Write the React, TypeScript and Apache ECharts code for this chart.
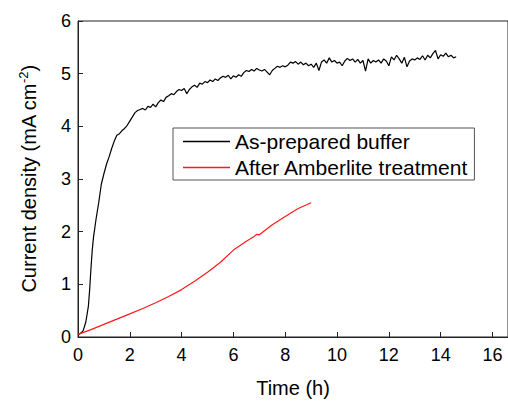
import React, { useEffect, useRef } from "react";
import * as echarts from "echarts";

const xTicks = [0, 2, 4, 6, 8, 10, 12, 14, 16];
const yTicks = [0, 1, 2, 3, 4, 5, 6];
const seriesNames = ["As-prepared buffer", "After Amberlite treatment"];

const asPrepared: [number, number][] = [
  [0.0, 0.04], [0.1, 0.07], [0.2, 0.12], [0.3, 0.28], [0.4, 0.58], [0.45, 0.9], [0.5, 1.3],
  [0.55, 1.65], [0.6, 1.9], [0.7, 2.25], [0.8, 2.55], [0.9, 2.9], [1.0, 3.1], [1.1, 3.28],
  [1.2, 3.42], [1.3, 3.58], [1.4, 3.72], [1.5, 3.83], [1.6, 3.86], [1.7, 3.92], [1.8, 3.96],
  [1.9, 4.02], [2.0, 4.1], [2.1, 4.18], [2.2, 4.26], [2.3, 4.3], [2.4, 4.32], [2.5, 4.34],
  [2.6, 4.31], [2.7, 4.38], [2.8, 4.36], [2.9, 4.42], [3.0, 4.37], [3.1, 4.45], [3.2, 4.5],
  [3.3, 4.47], [3.4, 4.55], [3.5, 4.58], [3.6, 4.62], [3.7, 4.6], [3.8, 4.66], [3.9, 4.7],
  [4.0, 4.68], [4.1, 4.72], [4.2, 4.62], [4.3, 4.7], [4.4, 4.75], [4.5, 4.78], [4.6, 4.74],
  [4.7, 4.82], [4.8, 4.8], [4.9, 4.85], [5.0, 4.83], [5.1, 4.88], [5.2, 4.85], [5.3, 4.9],
  [5.4, 4.87], [5.5, 4.92], [5.6, 4.95], [5.7, 4.93], [5.8, 4.97], [5.9, 4.9], [6.0, 4.96],
  [6.1, 4.93], [6.2, 4.98], [6.3, 4.95], [6.4, 5.02], [6.5, 5.06], [6.6, 5.04], [6.7, 5.08],
  [6.8, 5.05], [6.9, 5.1], [7.0, 5.07], [7.1, 5.05], [7.2, 5.08], [7.3, 5.03], [7.4, 4.98],
  [7.5, 5.06], [7.6, 5.1], [7.7, 5.14], [7.8, 5.12], [7.9, 5.15], [8.0, 5.13], [8.1, 5.16],
  [8.2, 5.22], [8.3, 5.2], [8.4, 5.23], [8.5, 5.18], [8.6, 5.22], [8.7, 5.17], [8.8, 5.2],
  [8.9, 5.15], [9.0, 5.18], [9.1, 5.12], [9.2, 5.2], [9.3, 5.06], [9.4, 5.22], [9.5, 5.26],
  [9.6, 5.2], [9.7, 5.3], [9.8, 5.22], [9.9, 5.25], [10.0, 5.2], [10.1, 5.22], [10.2, 5.15],
  [10.3, 5.24], [10.4, 5.29], [10.5, 5.25], [10.6, 5.28], [10.7, 5.22], [10.8, 5.27],
  [10.9, 5.2], [11.0, 5.25], [11.1, 5.05], [11.2, 5.28], [11.3, 5.2], [11.4, 5.25],
  [11.5, 5.22], [11.6, 5.26], [11.7, 5.2], [11.8, 5.28], [11.9, 5.24], [12.0, 5.15],
  [12.1, 5.32], [12.2, 5.26], [12.3, 5.35], [12.4, 5.28], [12.5, 5.2], [12.6, 5.31],
  [12.7, 5.13], [12.8, 5.24], [12.9, 5.28], [13.0, 5.26], [13.1, 5.3], [13.2, 5.27],
  [13.3, 5.34], [13.4, 5.26], [13.5, 5.35], [13.6, 5.3], [13.7, 5.38], [13.8, 5.44],
  [13.9, 5.28], [14.0, 5.36], [14.1, 5.33], [14.2, 5.39], [14.3, 5.32], [14.4, 5.35],
  [14.5, 5.3], [14.6, 5.32],
];

const afterAmberlite: [number, number][] = [
  [0.0, 0.05], [0.5, 0.14], [1.0, 0.24], [1.5, 0.34], [2.0, 0.44], [2.5, 0.54], [3.0, 0.65],
  [3.5, 0.77], [4.0, 0.9], [4.5, 1.06], [5.0, 1.23], [5.5, 1.42], [6.0, 1.65], [6.5, 1.82],
  [6.8, 1.91], [6.9, 1.95], [7.0, 1.94], [7.5, 2.13], [8.0, 2.29], [8.5, 2.44], [9.0, 2.55],
];

export default function App() {
  const ref = useRef<HTMLDivElement>(null);
  useEffect(() => {
    if (!ref.current) return;
    const chart = echarts.init(ref.current, null, { renderer: "svg" });
    const font = "Liberation Sans, Arial, sans-serif";
    chart.setOption({
      animation: false,
      backgroundColor: "#fff",
      textStyle: { fontFamily: font },
      grid: {
        left: 78, top: 21, bottom: 63, right: -1, show: true,
        borderColor: "#222", borderWidth: 1, backgroundColor: "transparent",
      },
      legend: {
        data: seriesNames,
        orient: "vertical",
        left: 173, top: 128,
        icon: "rect", itemWidth: 47, itemHeight: 1.5, itemGap: 5,
        padding: [3, 6, 2, 10],
        borderColor: "#555", borderWidth: 1,
        textStyle: { fontSize: 21, color: "#000", fontFamily: font },
      },
      xAxis: {
        type: "value", min: 0, max: 16.6,
        name: "Time (h)", nameLocation: "middle", nameGap: 41,
        nameTextStyle: { fontSize: 20, color: "#000", fontFamily: font },
        axisLine: { show: true, lineStyle: { color: "#222", width: 1 } },
        axisTick: { inside: true, length: 5, customValues: xTicks, lineStyle: { color: "#222" } },
        axisLabel: { customValues: xTicks, fontSize: 18, color: "#000", margin: 9, fontFamily: font },
        splitLine: { show: false },
      },
      yAxis: {
        type: "value", min: 0, max: 6, interval: 1,
        name: "Current density (mA cm{sup|-2})", nameLocation: "middle", nameGap: 38,
        nameTextStyle: {
          fontSize: 20, color: "#000", fontFamily: font,
          rich: { sup: { fontSize: 13, color: "#000", fontFamily: font, padding: [0, 0, 10, 0] } },
        },
        axisLine: { show: true, lineStyle: { color: "#222", width: 1 } },
        axisTick: { inside: true, length: 5, customValues: yTicks, lineStyle: { color: "#222" } },
        axisLabel: { customValues: yTicks, fontSize: 18, color: "#000", margin: 7, fontFamily: font },
        splitLine: { show: false },
      },
      series: [
        {
          name: seriesNames[0], type: "line", data: asPrepared, symbol: "none",
          lineStyle: { color: "#000", width: 1.2 }, itemStyle: { color: "#000" },
        },
        {
          name: seriesNames[1], type: "line", data: afterAmberlite, symbol: "none",
          lineStyle: { color: "#ff1a1a", width: 1.2 }, itemStyle: { color: "#ff1a1a" },
        },
      ],
    });
    return () => chart.dispose();
  }, []);
  return (
    <div
      ref={ref}
      style={{ position: "fixed", left: 0, top: 0, width: 508, height: 403 }}
    />
  );
}
